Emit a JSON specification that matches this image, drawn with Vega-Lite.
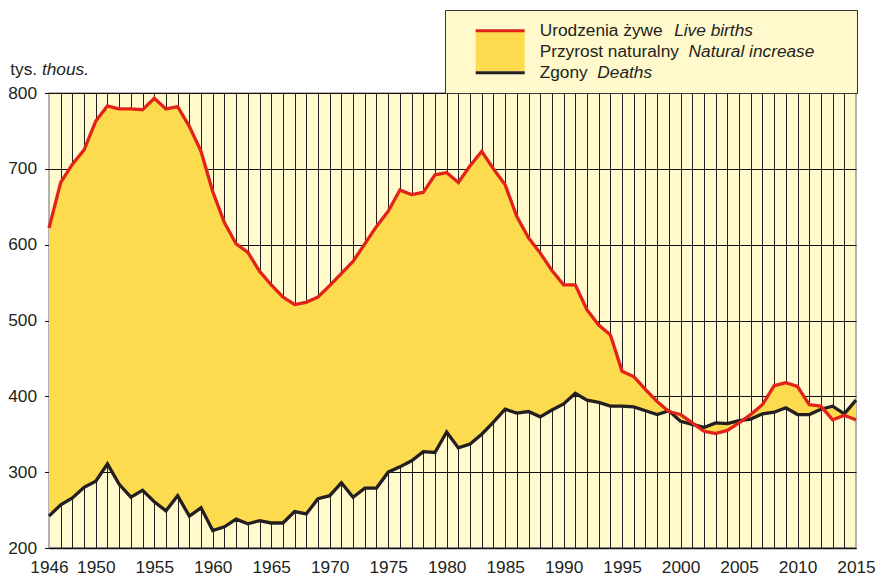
{
  "$schema": "https://vega.github.io/schema/vega-lite/v6.json",
  "width": 807,
  "height": 455,
  "autosize": {"type": "none"},
  "padding": {"left": 49, "top": 93, "right": 20, "bottom": 28},
  "background": "white",
  "config": {
    "font": "Liberation Sans",
    "view": {"fill": "#FFF9CC", "stroke": "#999999", "strokeWidth": 1.5}
  },
  "data": {
    "values": [
      {"year": 1946, "births": 622, "deaths": 242},
      {"year": 1947, "births": 682, "deaths": 257},
      {"year": 1948, "births": 706, "deaths": 266},
      {"year": 1949, "births": 725, "deaths": 280},
      {"year": 1950, "births": 763, "deaths": 288},
      {"year": 1951, "births": 783, "deaths": 311},
      {"year": 1952, "births": 779, "deaths": 284},
      {"year": 1953, "births": 779, "deaths": 267},
      {"year": 1954, "births": 778, "deaths": 276},
      {"year": 1955, "births": 793, "deaths": 261},
      {"year": 1956, "births": 779, "deaths": 249},
      {"year": 1957, "births": 782, "deaths": 269},
      {"year": 1958, "births": 756, "deaths": 242},
      {"year": 1959, "births": 723, "deaths": 253},
      {"year": 1960, "births": 670, "deaths": 223},
      {"year": 1961, "births": 629, "deaths": 228},
      {"year": 1962, "births": 601, "deaths": 238},
      {"year": 1963, "births": 590, "deaths": 232},
      {"year": 1964, "births": 565, "deaths": 236},
      {"year": 1965, "births": 547, "deaths": 233},
      {"year": 1966, "births": 531, "deaths": 233},
      {"year": 1967, "births": 521, "deaths": 248},
      {"year": 1968, "births": 524, "deaths": 245},
      {"year": 1969, "births": 531, "deaths": 265},
      {"year": 1970, "births": 546, "deaths": 269},
      {"year": 1971, "births": 562, "deaths": 286},
      {"year": 1972, "births": 578, "deaths": 267},
      {"year": 1973, "births": 601, "deaths": 279},
      {"year": 1974, "births": 624, "deaths": 279},
      {"year": 1975, "births": 644, "deaths": 300},
      {"year": 1976, "births": 672, "deaths": 307},
      {"year": 1977, "births": 666, "deaths": 315},
      {"year": 1978, "births": 669, "deaths": 327},
      {"year": 1979, "births": 692, "deaths": 326},
      {"year": 1980, "births": 695, "deaths": 353},
      {"year": 1981, "births": 682, "deaths": 332},
      {"year": 1982, "births": 704, "deaths": 337},
      {"year": 1983, "births": 723, "deaths": 350},
      {"year": 1984, "births": 700, "deaths": 366},
      {"year": 1985, "births": 679, "deaths": 383},
      {"year": 1986, "births": 637, "deaths": 378},
      {"year": 1987, "births": 609, "deaths": 380},
      {"year": 1988, "births": 589, "deaths": 373},
      {"year": 1989, "births": 566, "deaths": 382},
      {"year": 1990, "births": 547, "deaths": 390},
      {"year": 1991, "births": 547, "deaths": 404},
      {"year": 1992, "births": 514, "deaths": 395},
      {"year": 1993, "births": 494, "deaths": 392},
      {"year": 1994, "births": 481, "deaths": 387},
      {"year": 1995, "births": 433, "deaths": 387},
      {"year": 1996, "births": 426, "deaths": 386},
      {"year": 1997, "births": 409, "deaths": 381},
      {"year": 1998, "births": 393, "deaths": 376},
      {"year": 1999, "births": 380, "deaths": 381},
      {"year": 2000, "births": 376, "deaths": 367},
      {"year": 2001, "births": 365, "deaths": 363},
      {"year": 2002, "births": 354, "deaths": 359},
      {"year": 2003, "births": 351, "deaths": 365},
      {"year": 2004, "births": 355, "deaths": 364},
      {"year": 2005, "births": 365, "deaths": 368},
      {"year": 2006, "births": 376, "deaths": 370},
      {"year": 2007, "births": 389, "deaths": 377},
      {"year": 2008, "births": 414, "deaths": 379},
      {"year": 2009, "births": 418, "deaths": 385},
      {"year": 2010, "births": 413, "deaths": 376},
      {"year": 2011, "births": 389, "deaths": 376},
      {"year": 2012, "births": 387, "deaths": 383},
      {"year": 2013, "births": 369, "deaths": 387},
      {"year": 2014, "births": 375, "deaths": 377},
      {"year": 2015, "births": 369, "deaths": 395}
    ]
  },
  "layer": [
    {
      "mark": {"type": "area", "opacity": 1},
      "encoding": {
        "x": {
          "field": "year",
          "type": "quantitative",
          "scale": {"domain": [1946, 2015], "nice": false, "zero": false},
          "axis": {
            "values": [1946,1947,1948,1949,1950,1951,1952,1953,1954,1955,1956,1957,1958,1959,1960,1961,1962,1963,1964,1965,1966,1967,1968,1969,1970,1971,1972,1973,1974,1975,1976,1977,1978,1979,1980,1981,1982,1983,1984,1985,1986,1987,1988,1989,1990,1991,1992,1993,1994,1995,1996,1997,1998,1999,2000,2001,2002,2003,2004,2005,2006,2007,2008,2009,2010,2011,2012,2013,2014,2015],
            "tickCount": 200,
            "format": "d",
            "labelExpr": "(datum.value == 1946 || datum.value % 5 == 0) ? datum.label : ''",
            "grid": true,
            "gridColor": {"condition": {"test": "datum.value == 1946 || datum.value == 2015", "value": "transparent"}, "value": "#222222"},
            "gridWidth": 1,
            "ticks": false,
            "tickSize": 0,
            "labelPadding": 10,
            "labelBaseline": "top",
            "labelFontSize": 17.3,
            "labelColor": "#231F20",
            "labelFlush": false,
            "labelOverlap": false,
            "domainColor": "#111111",
            "domainWidth": 1.5,
            "title": "thous.",
            "titleX": -7.6,
            "titleY": -473.3,
            "titleAlign": "left",
            "titleBaseline": "alphabetic",
            "titleAngle": 0,
            "titleFontStyle": "italic",
            "titleFontWeight": "normal",
            "titleFontSize": 17.3,
            "titleColor": "#231F20"
          }
        },
        "y": {
          "field": "births",
          "type": "quantitative",
          "scale": {"domain": [200, 800], "nice": false, "zero": false},
          "axis": {
            "values": [200, 300, 400, 500, 600, 700, 800],
            "grid": true,
            "gridColor": "#111111",
            "gridWidth": 1,
            "domain": false,
            "tickSize": 4.5,
            "tickColor": "#111111",
            "labelPadding": 8,
            "labelFontSize": 17.3,
            "labelColor": "#231F20",
            "title": "tys.",
            "titleAngle": 0,
            "titleX": -39.3,
            "titleY": -18.3,
            "titleAlign": "left",
            "titleBaseline": "alphabetic",
            "titleFontWeight": "normal",
            "titleFontSize": 17.3,
            "titleColor": "#231F20"
          }
        },
        "y2": {"field": "deaths"},
        "fill": {
          "datum": "natural increase band",
          "type": "nominal",
          "scale": {"domain": ["births band", "natural increase band", "deaths band"], "range": ["#FDDB4F", "#FDDB4F", "#FDDB4F"]},
          "legend": {
            "orient": "none",
            "legendX": 396,
            "legendY": -83,
            "title": null,
            "direction": "vertical",
            "fillColor": "#FFF9CC",
            "strokeColor": "#333333",
            "padding": 22,
            "symbolType": "M-0.808,-0.22H0.498V0.22H-0.808Z",
            "symbolSize": 5625,
            "symbolStrokeWidth": 3,
            "symbolStrokeColor": "transparent",
            "symbolOpacity": 1,
            "clipHeight": 13,
            "rowPadding": 0,
            "labelFontSize": 10,
            "labelColor": "transparent",
            "labelOffset": 5.8,
            "labelLimit": 800,
            "labelExpr": "datum.value == 'births band' ? '000000000000000000000000000000000000000000000000000' : ''"
          }
        }
      }
    },
    {
      "mark": {"type": "line", "strokeWidth": 3.3},
      "encoding": {
        "x": {"field": "year", "type": "quantitative"},
        "y": {"field": "deaths", "type": "quantitative"},
        "stroke": {
          "datum": "Deaths",
          "type": "nominal",
          "scale": {"domain": ["Live births", "Natural increase", "Deaths"], "range": ["#E2231A", "transparent", "#231F20"]},
          "legend": {
            "orient": "none",
            "legendX": 396,
            "legendY": -83.3,
            "title": null,
            "direction": "vertical",
            "padding": 10.9,
            "symbolType": "M-0.512,0H0.795",
            "symbolSize": 5625,
            "symbolStrokeWidth": 3,
            "symbolFillColor": "transparent",
            "symbolOpacity": 1,
            "clipHeight": 20.2,
            "rowPadding": 0,
            "labelFontSize": 17.3,
            "labelFontStyle": "italic",
            "labelColor": "#231F20",
            "labelOffset": 5.8,
            "labelLimit": 800,
            "labelExpr": "datum.value == 'Live births' ? '\u200b\u00a0\u00a0\u00a0\u00a0\u00a0\u00a0\u00a0\u00a0\u00a0\u00a0\u00a0\u00a0\u00a0\u00a0\u00a0\u00a0\u00a0\u00a0\u00a0\u00a0\u00a0\u00a0\u00a0\u00a0\u00a0\u00a0\u00a0\u00a0Live births' : (datum.value == 'Deaths' ? '\u200b\u00a0\u00a0\u00a0\u00a0\u00a0\u00a0\u00a0\u00a0\u00a0\u00a0\u00a0\u00a0Deaths' : '\u200b\u00a0\u00a0\u00a0\u00a0\u00a0\u00a0\u00a0\u00a0\u00a0\u00a0\u00a0\u00a0\u00a0\u00a0\u00a0\u00a0\u00a0\u00a0\u00a0\u00a0\u00a0\u00a0\u00a0\u00a0\u00a0\u00a0\u00a0\u00a0\u00a0\u00a0\u00a0Natural increase')"
          }
        }
      }
    },
    {
      "mark": {"type": "line", "strokeWidth": 3.3},
      "encoding": {
        "x": {"field": "year", "type": "quantitative"},
        "y": {"field": "births", "type": "quantitative"},
        "stroke": {"datum": "Live births", "type": "nominal"},
        "strokeDash": {
          "datum": "Urodzenia żywe",
          "type": "nominal",
          "scale": {"domain": ["Urodzenia żywe", "Przyrost naturalny", "Zgony"], "range": [[1, 0], [1, 0], [1, 0]]},
          "legend": {
            "orient": "none",
            "legendX": 396,
            "legendY": -83.3,
            "title": null,
            "direction": "vertical",
            "padding": 10.9,
            "symbolType": "M-0.512,0H0.795",
            "symbolSize": 5625,
            "symbolStrokeWidth": 3,
            "symbolOpacity": 0,
            "clipHeight": 20.2,
            "rowPadding": 0,
            "labelFontSize": 17.3,
            "labelColor": "#231F20",
            "labelOffset": 5.8,
            "labelLimit": 800
          }
        }
      }
    }
  ]
}
